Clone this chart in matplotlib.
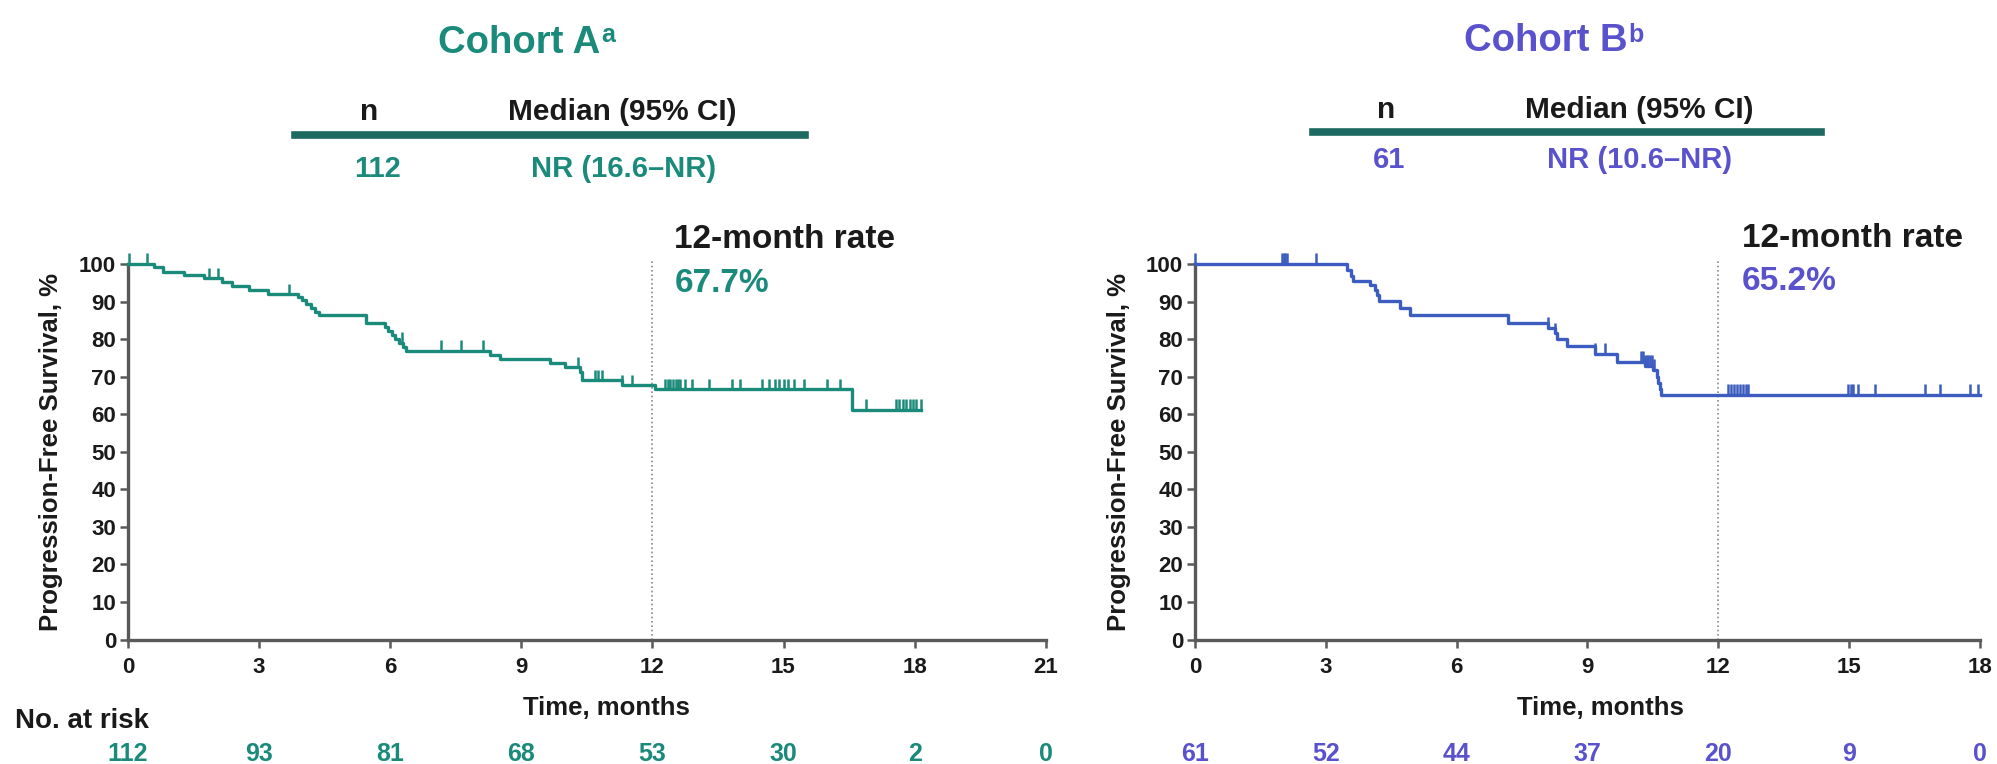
import numpy as np
import matplotlib
matplotlib.use("Agg")
import matplotlib.pyplot as plt
import matplotlib.transforms as mtransforms
from matplotlib.lines import Line2D

plt.rcParams['font.family'] = ['Liberation Sans', 'DejaVu Sans']
plt.rcParams['font.weight'] = 'bold'

teal = '#1a8a7a'
teal_dark = '#1d6b60'
blue_line = '#3d5cbf'
violet = '#5a52cc'
axis_grey = '#595959'

# Cohort A: KM steps (time in months, PFS %)
a_times = [0, 0.60, 0.79, 1.28, 1.74, 2.16, 2.39, 2.78, 3.20, 3.88, 3.99, 4.08, 4.18,
           4.28, 4.38, 5.45, 5.87, 5.95, 6.05, 6.12, 6.20, 6.30, 6.37, 8.28, 8.51,
           9.66, 10.00, 10.34, 10.40, 11.30, 12.05, 16.57]
a_surv = [100, 99.1, 98.0, 97.1, 96.2, 95.1, 94.2, 93.1, 92.0, 91.3, 90.4, 89.4, 88.4,
          87.3, 86.3, 84.2, 83.3, 82.2, 81.1, 80.0, 79.0, 77.9, 76.9, 75.8, 74.6,
          73.6, 72.5, 71.3, 69.1, 67.7, 66.6, 61.2]
a_end = 18.14
a_censor = [0.03, 0.44, 1.86, 2.05, 3.69, 6.26, 7.16, 7.61, 8.13, 10.30, 10.69, 10.76,
            10.84, 11.30, 11.53, 12.29, 12.35, 12.41, 12.47, 12.53, 12.59, 12.64, 12.75,
            12.90, 13.29, 13.82, 14.01, 14.51, 14.66, 14.80, 14.90, 15.00, 15.10, 15.24,
            15.47, 16.00, 16.30, 16.89, 17.57, 17.65, 17.73, 17.81, 17.89, 17.97, 18.03,
            18.14]
a_ticks = [0, 3, 6, 9, 12, 15, 18, 21]
a_risk = [112, 93, 81, 68, 53, 30, 2, 0]

# Cohort B
b_times = [0, 3.48, 3.57, 3.63, 4.01, 4.13, 4.17, 4.21, 4.70, 4.93, 7.19, 8.10, 8.25,
           8.31, 8.53, 9.17, 9.67, 10.32, 10.50, 10.60, 10.63, 10.66, 10.69]
b_surv = [100, 98.4, 96.9, 95.5, 94.5, 93.2, 91.7, 90.2, 88.3, 86.3, 84.3, 83.0, 81.5,
          80.0, 78.2, 76.1, 73.9, 72.9, 71.9, 70.0, 68.2, 66.6, 65.2]
b_end = 18.0
b_censor = [0.0, 1.99, 2.03, 2.07, 2.10, 2.78, 8.10, 8.25, 9.17, 9.40, 10.24, 10.28,
            10.32, 10.36, 10.40, 10.44, 10.48, 10.52, 12.23, 12.30, 12.37, 12.44, 12.51,
            12.58, 12.64, 12.69, 14.98, 15.04, 15.10, 15.21, 15.60, 16.74, 17.09, 17.78,
            17.97]
b_ticks = [0, 3, 6, 9, 12, 15, 18]
b_risk = [61, 52, 44, 37, 20, 9, 0]

W, H = 1997, 764
fig = plt.figure(figsize=(W / 100, H / 100), dpi=100)


def fx(px):
    return px / W


def fy(py):
    return 1 - py / H


def km_panel(ax, times, surv, end, censor, ticks, color):
    t = list(times) + [end]
    s = list(surv) + [surv[-1]]
    ax.step(t, s, where='post', color=color, lw=2.4, clip_on=False, zorder=3)
    idx = np.searchsorted(times, censor, side='right') - 1
    cy = np.array(surv)[idx]
    ax.vlines(censor, cy, cy + 2.8, color=color, lw=1.8, clip_on=False, zorder=3)
    ax.vlines(12, 0, 101, colors='#8a8a8a', linestyles=(0, (1, 1.6)), lw=1.2,
              clip_on=False, zorder=2)
    ax.set_xlim(0, ticks[-1])
    ax.set_ylim(0, 100)
    ax.set_xticks(ticks)
    ax.set_yticks(range(0, 101, 10))
    for side in ['top', 'right']:
        ax.spines[side].set_visible(False)
    for side in ['left', 'bottom']:
        ax.spines[side].set_linewidth(2.4)
        ax.spines[side].set_color(axis_grey)
    ax.tick_params(direction='out', length=5.5, width=1.8, color=axis_grey,
                   labelsize=16, labelcolor='#1a1a1a')
    ax.tick_params(axis='x', pad=7)
    ax.tick_params(axis='y', pad=3)
    for lab in ax.get_xticklabels() + ax.get_yticklabels():
        lab.set_fontweight('bold')


ax1 = fig.add_axes([fx(128), fy(639.5), fx(43.7 * 21), 375.5 / H])
km_panel(ax1, a_times, a_surv, a_end, a_censor, a_ticks, teal)
ax2 = fig.add_axes([fx(1195), fy(639.5), fx(43.6 * 18), 375.5 / H])
km_panel(ax2, b_times, b_surv, b_end, b_censor, b_ticks, blue_line)

# y labels
fig.text(fx(51), fy(452), 'Progression-Free Survival, %', rotation=90, ha='center',
         va='center', fontsize=18.5, fontweight='bold', color='#1a1a1a')
fig.text(fx(1119), fy(452), 'Progression-Free Survival, %', rotation=90, ha='center',
         va='center', fontsize=18.5, fontweight='bold', color='#1a1a1a')

# x labels
fig.text(fx(606), fy(715), 'Time, months', ha='center', va='baseline', fontsize=18.5,
         fontweight='bold', color='#1a1a1a')
fig.text(fx(1600), fy(715), 'Time, months', ha='center', va='baseline', fontsize=18.5,
         fontweight='bold', color='#1a1a1a')

# 12-month rate annotations
ax1.text(12.5, 104.2, '12-month rate', ha='left', va='baseline', fontsize=24,
         fontweight='bold', color='#1a1a1a', clip_on=False)
ax1.text(12.5, 92.6, '67.7%', ha='left', va='baseline', fontsize=24,
         fontweight='bold', color=teal, clip_on=False)
ax2.text(12.55, 104.6, '12-month rate', ha='left', va='baseline', fontsize=24,
         fontweight='bold', color='#1a1a1a', clip_on=False)
ax2.text(12.55, 93.1, '65.2%', ha='left', va='baseline', fontsize=24,
         fontweight='bold', color=violet, clip_on=False)

# number at risk
fig.text(fx(15), fy(728), 'No. at risk', ha='left', va='baseline', fontsize=20,
         fontweight='bold', color='#1a1a1a')
for ax, ticks, risk, col in [(ax1, a_ticks, a_risk, teal), (ax2, b_ticks, b_risk, violet)]:
    tr = mtransforms.blended_transform_factory(ax.transData, fig.transFigure)
    for t, r in zip(ticks, risk):
        ax.text(t, fy(761), str(r), transform=tr, ha='center', va='baseline',
                fontsize=18, fontweight='bold', color=col, clip_on=False)

# headers with summary table
titles = []
titles.append(fig.text(fx(519), fy(53), 'Cohort A', ha='center', va='baseline',
                       fontsize=27.5, fontweight='bold', color=teal))
titles.append(fig.text(fx(1546), fy(51), 'Cohort B', ha='center', va='baseline',
                       fontsize=27.5, fontweight='bold', color=violet))

fig.text(fx(369), fy(120), 'n', ha='center', va='baseline', fontsize=21.5, color='#1a1a1a')
fig.text(fx(622), fy(120), 'Median (95% CI)', ha='center', va='baseline', fontsize=21.5,
         color='#1a1a1a')
fig.add_artist(Line2D([fx(295), fx(805)], [fy(135), fy(135)], color=teal_dark, lw=5.5))
fig.text(fx(377), fy(177), '112', ha='center', va='baseline', fontsize=21, color=teal)
fig.text(fx(624), fy(177), 'NR (16.6\u2013NR)', ha='center', va='baseline', fontsize=21,
         color=teal)

fig.text(fx(1386), fy(118), 'n', ha='center', va='baseline', fontsize=21.5, color='#1a1a1a')
fig.text(fx(1639), fy(118), 'Median (95% CI)', ha='center', va='baseline', fontsize=21.5,
         color='#1a1a1a')
fig.add_artist(Line2D([fx(1313), fx(1821)], [fy(132), fy(132)], color=teal_dark, lw=5.5))
fig.text(fx(1389), fy(168), '61', ha='center', va='baseline', fontsize=21, color=violet)
fig.text(fx(1640), fy(168), 'NR (10.6\u2013NR)', ha='center', va='baseline', fontsize=21,
         color=violet)

# superscripts next to the titles
fig.canvas.draw()
renderer = fig.canvas.get_renderer()
for t, sup, col in zip(titles, ['a', 'b'], [teal, violet]):
    bb = t.get_window_extent(renderer)
    fig.text((bb.x1 + 1) / W, fy(42), sup, ha='left', va='baseline', fontsize=18,
             fontweight='bold', color=col)

fig.savefig('out.png', dpi=100)
